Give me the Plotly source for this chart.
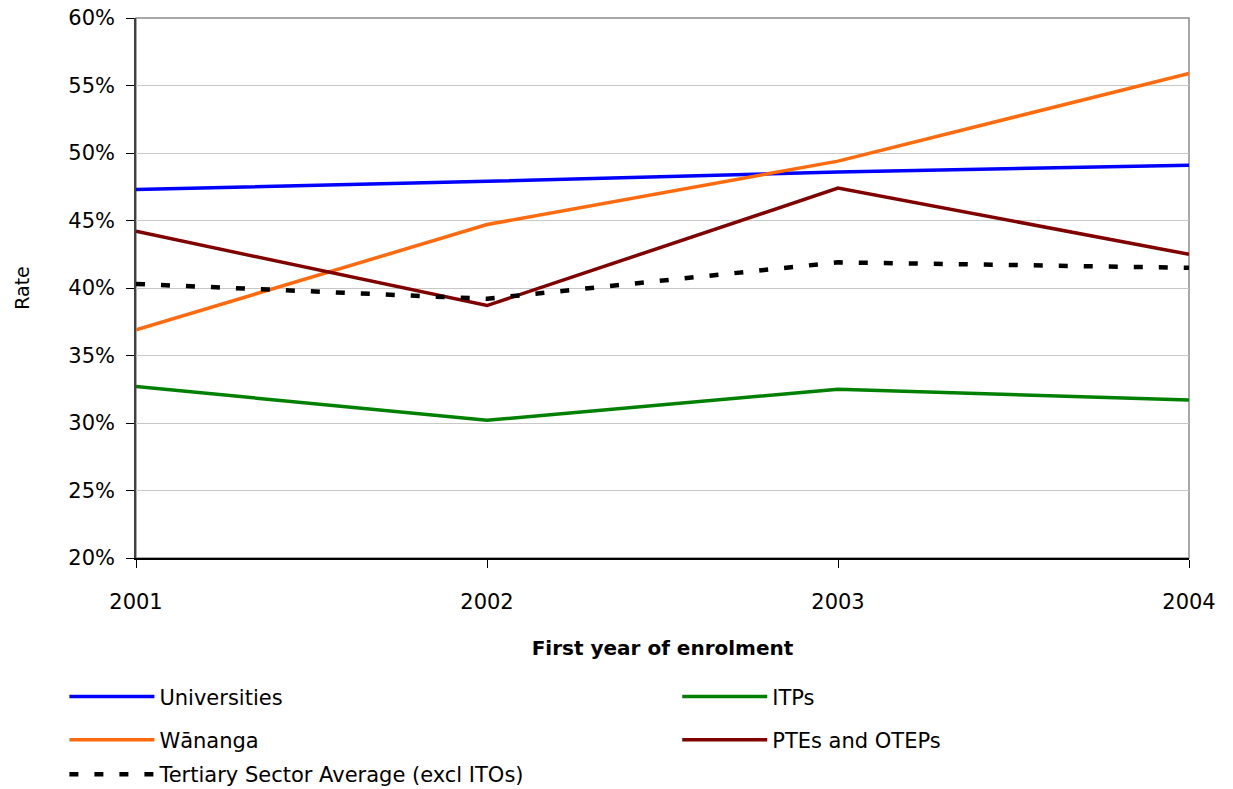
import plotly.graph_objects as go

years = [2001, 2002, 2003, 2004]
universities = [47.3, 47.9, 48.6, 49.1]
itps = [32.7, 30.2, 32.5, 31.7]
wananga = [36.9, 44.7, 49.4, 55.9]
ptes_oteps = [44.2, 38.7, 47.4, 42.5]
sector_avg = [40.3, 39.2, 41.9, 41.5]

y_ticks = [20, 25, 30, 35, 40, 45, 50, 55, 60]
y_tick_text = [f"{v}%" for v in y_ticks]

FONT = "'DejaVu Sans', sans-serif"

# name, values, colour, dash, legend id, legend x (paper), legend y (paper)
series = [
    ("Universities", universities, "#0000FF", "solid", "legend", -0.068, -0.257),
    ("ITPs", itps, "#008000", "solid", "legend2", 0.514, -0.257),
    ("W\u0101nanga", wananga, "#FF6A0E", "solid", "legend3", -0.068, -0.337),
    ("PTEs and OTEPs", ptes_oteps, "#800000", "solid", "legend4", 0.514, -0.337),
    ("Tertiary Sector Average (excl ITOs)", sector_avg, "#000000", "9px,16px", "legend5", -0.068, -0.401),
]

fig = go.Figure()
legend_layouts = {}
for name, vals, color, dash, leg, lx, ly in series:
    fig.add_trace(go.Scatter(
        x=years, y=vals, name=name, mode="lines", legend=leg,
        line=dict(color=color, width=4.5 if dash != "solid" else 3.5, dash=dash),
    ))
    legend_layouts[leg] = dict(
        orientation="h", x=lx, xanchor="left", y=ly, yanchor="middle",
        itemwidth=85, font=dict(size=21, family=FONT, color="black"),
        bgcolor="rgba(0,0,0,0)",
    )

fig.update_layout(
    width=1233, height=789,
    margin=dict(l=136, r=44, t=18, b=231, autoexpand=False),
    paper_bgcolor="white", plot_bgcolor="white",
    font=dict(family=FONT, color="black"),
    showlegend=True,
    shapes=[dict(type="rect", xref="paper", yref="paper", x0=0, x1=1, y0=0, y1=1,
                 line=dict(color="#8C8C8C", width=1.5), layer="below")],
    **legend_layouts,
)

fig.update_xaxes(
    range=[2001, 2004], tickvals=years, ticktext=[str(y) for y in years],
    showgrid=False, zeroline=False,
    showline=True, linecolor="#000000", linewidth=1.5,
    ticks="outside", ticklen=8, tickcolor="#000000", tickwidth=1,
    ticklabelstandoff=16,
    tickfont=dict(size=21, family=FONT),
    title=dict(text="<b>First year of enrolment</b>", font=dict(size=20, family=FONT), standoff=28),
)
fig.update_yaxes(
    range=[20, 60], tickvals=y_ticks, ticktext=y_tick_text,
    showgrid=True, gridcolor="#C8C8C8", gridwidth=1, zeroline=False,
    showline=True, linecolor="#404040", linewidth=1.5,
    ticks="outside", ticklen=8, tickcolor="#000000", tickwidth=1,
    ticklabelstandoff=7,
    tickfont=dict(size=21, family=FONT),
    title=dict(text="Rate", font=dict(size=19, family=FONT), standoff=34),
)

fig.write_html("out.html")
